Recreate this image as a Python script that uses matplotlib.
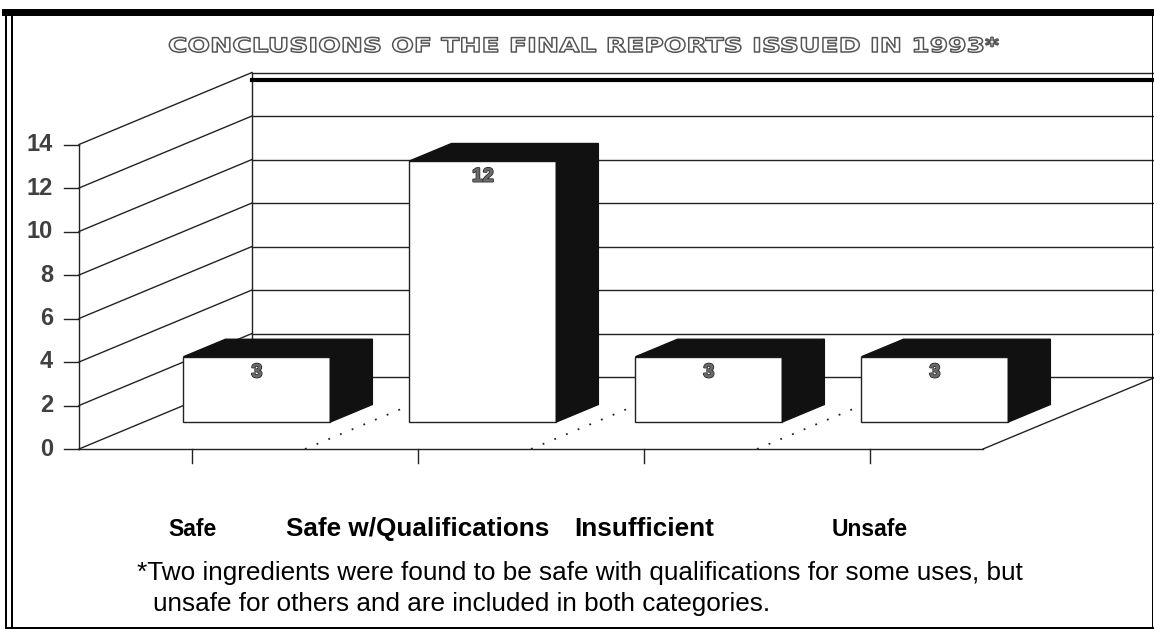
import matplotlib
matplotlib.use("Agg")
import matplotlib.pyplot as plt
import matplotlib.patheffects as pe
from matplotlib.patches import Polygon
from matplotlib.lines import Line2D
from matplotlib.transforms import Affine2D, IdentityTransform, ScaledTranslation

categories = ["Safe", "Safe w/Qualifications", "Insufficient", "Unsafe"]
counts = [3, 12, 3, 3]
y_ticks = [0, 2, 4, 6, 8, 10, 12, 14]
title = "CONCLUSIONS OF THE FINAL REPORTS ISSUED IN 1993*"
footnote = ["*Two ingredients were found to be safe with qualifications for some uses, but",
            "unsafe for others and are included in both categories."]


class StretchedOutline(pe.AbstractPathEffect):
    """Hollow letters, stretched horizontally around cx (pixels)."""

    def __init__(self, sx, cx, edge="#555555", face="white", lw=1.0):
        super().__init__()
        self.sx, self.cx, self.edge, self.face, self.lw = sx, cx, edge, face, lw

    def draw_path(self, renderer, gc, tpath, affine, rgbFace=None):
        st = affine + Affine2D().translate(-self.cx, 0).scale(self.sx, 1).translate(self.cx, 0)
        gc0 = renderer.new_gc()
        gc0.copy_properties(gc)
        gc0.set_linewidth(self.lw)
        gc0.set_foreground(self.edge)
        renderer.draw_path(gc0, tpath, st, matplotlib.colors.to_rgba(self.face))
        gc0.restore()


W, H = 1154, 629
fig = plt.figure(figsize=(W / 100, H / 100), dpi=100)
ax = fig.add_axes([0, 0, 1, 1])

# one x unit per category, one y unit per report; origin at the first category on the floor
x0_px, y0_px, ux, uy = 192, 449, 226, 21.75
ax.set_xlim(-x0_px / ux, (W - x0_px) / ux)
ax.set_ylim(-(H - y0_px) / uy, y0_px / uy)
ax.axis("off")

DX, DY = 173 / ux, 72 / uy      # floor depth
left, right = -0.5, len(categories) - 0.5
ymax = y_ticks[-1]
bar_w = 0.65
t0, t1 = 0.375, 0.618           # bar depth as a share of the floor depth
lc = "#222222"

# walls and floor
ax.plot([left, left], [0, ymax], color=lc, lw=1)
ax.plot([left, right], [0, 0], color=lc, lw=1)
ax.plot([right, right + DX], [0, DY], color=lc, lw=1)
ax.plot([left + DX, left + DX], [DY, ymax + DY], color=lc, lw=1)
for v in y_ticks:
    ax.plot([left, left + DX], [v, v + DY], color=lc, lw=1)
    ax.plot([left + DX, right + DX + 0.2], [v + DY, v + DY], color=lc, lw=1)
    ax.plot([left - 15 / ux, left], [v, v], color=lc, lw=1)
    ax.annotate(str(v), (left, v), xytext=(-26, 0), textcoords="offset pixels",
                ha="right", va="center", fontsize=17, fontweight="bold",
                family="Liberation Sans", color="#404040")
# heavy rule just under the back wall top
ax.plot([left + DX, right + DX + 0.2], [ymax + DY] * 2, color="black", lw=3,
        transform=ax.transData + ScaledTranslation(0, -7 / 100, fig.dpi_scale_trans))

for i in range(len(categories)):
    ax.plot([i, i], [0, -14 / uy], color=lc, lw=1)
for i in range(len(categories) - 1):
    ax.plot([i + 0.5, i + 0.5 + DX], [0, DY], color=lc, lw=1.3, ls=(0, (1, 6)), zorder=1)

# bars
ddx, ddy = (t1 - t0) * DX, (t1 - t0) * DY
for i, v in enumerate(counts):
    xl = i + t0 * DX - bar_w / 2
    xr = xl + bar_w
    yb = t0 * DY
    yt = yb + v
    ax.add_patch(Polygon([(xl, yb), (xr, yb), (xr, yt), (xl, yt)], closed=True,
                         fc="white", ec=lc, lw=1, zorder=3))
    ax.add_patch(Polygon([(xr, yb), (xr + ddx, yb + ddy), (xr + ddx, yt + ddy), (xr, yt)],
                         closed=True, fc="#111111", ec="#111111", lw=1, zorder=3))
    ax.add_patch(Polygon([(xl, yt), (xr, yt), (xr + ddx, yt + ddy), (xl + ddx, yt + ddy)],
                         closed=True, fc="#111111", ec="#111111", lw=1, zorder=3))
    ax.annotate(str(v), (xl + bar_w / 2, yt), xytext=(0, -16), textcoords="offset pixels",
                ha="center", va="center", fontsize=14, fontweight="bold",
                family="Liberation Sans", color="#6a6a6a", zorder=4,
                path_effects=[pe.withStroke(linewidth=1.4, foreground="#2a2a2a"), pe.Normal()])

# category labels
label_sizes = [16.5, 18.8, 18.8, 16.5]
for i, (name, fs) in enumerate(zip(categories, label_sizes)):
    ax.annotate(name, (i, 0), xytext=(0, -87), textcoords="offset pixels",
                ha="center", va="baseline", fontsize=fs, fontweight="bold",
                family="Liberation Sans", color="black")

# footnote
fig.text(137 / W, 1 - 580 / H, footnote[0], ha="left", va="baseline",
         fontsize=18.8, family="Liberation Sans", color="black")
fig.text(153 / W, 1 - 611 / H, footnote[1], ha="left", va="baseline",
         fontsize=18.8, family="Liberation Sans", color="black")

# title: hollow, widely set capitals
cx = (168 + 1000) / 2
ttl = fig.text(cx / W, 1 - 52 / H, title, ha="center", va="baseline",
               fontsize=14.2, fontweight="bold", family="DejaVu Sans")
w_nat = ttl.get_window_extent(renderer=fig.canvas.get_renderer()).width
ttl.set_path_effects([StretchedOutline((1000 - 168) / w_nat, cx, lw=1.1)])

# page frame
frame = [([6, 6], [10, 628], 2), ([12, 12], [10, 628], 2), ([5, W], [11.5, 11.5], 7),
         ([6, W], [627.5, 627.5], 2), ([1152, 1152], [12, 628], 1)]
for xs, ys, lw in frame:
    fig.add_artist(Line2D(xs, [H - y for y in ys], lw=lw * 0.72, color="black",
                          transform=IdentityTransform()))

fig.savefig("out.png", dpi=100)
